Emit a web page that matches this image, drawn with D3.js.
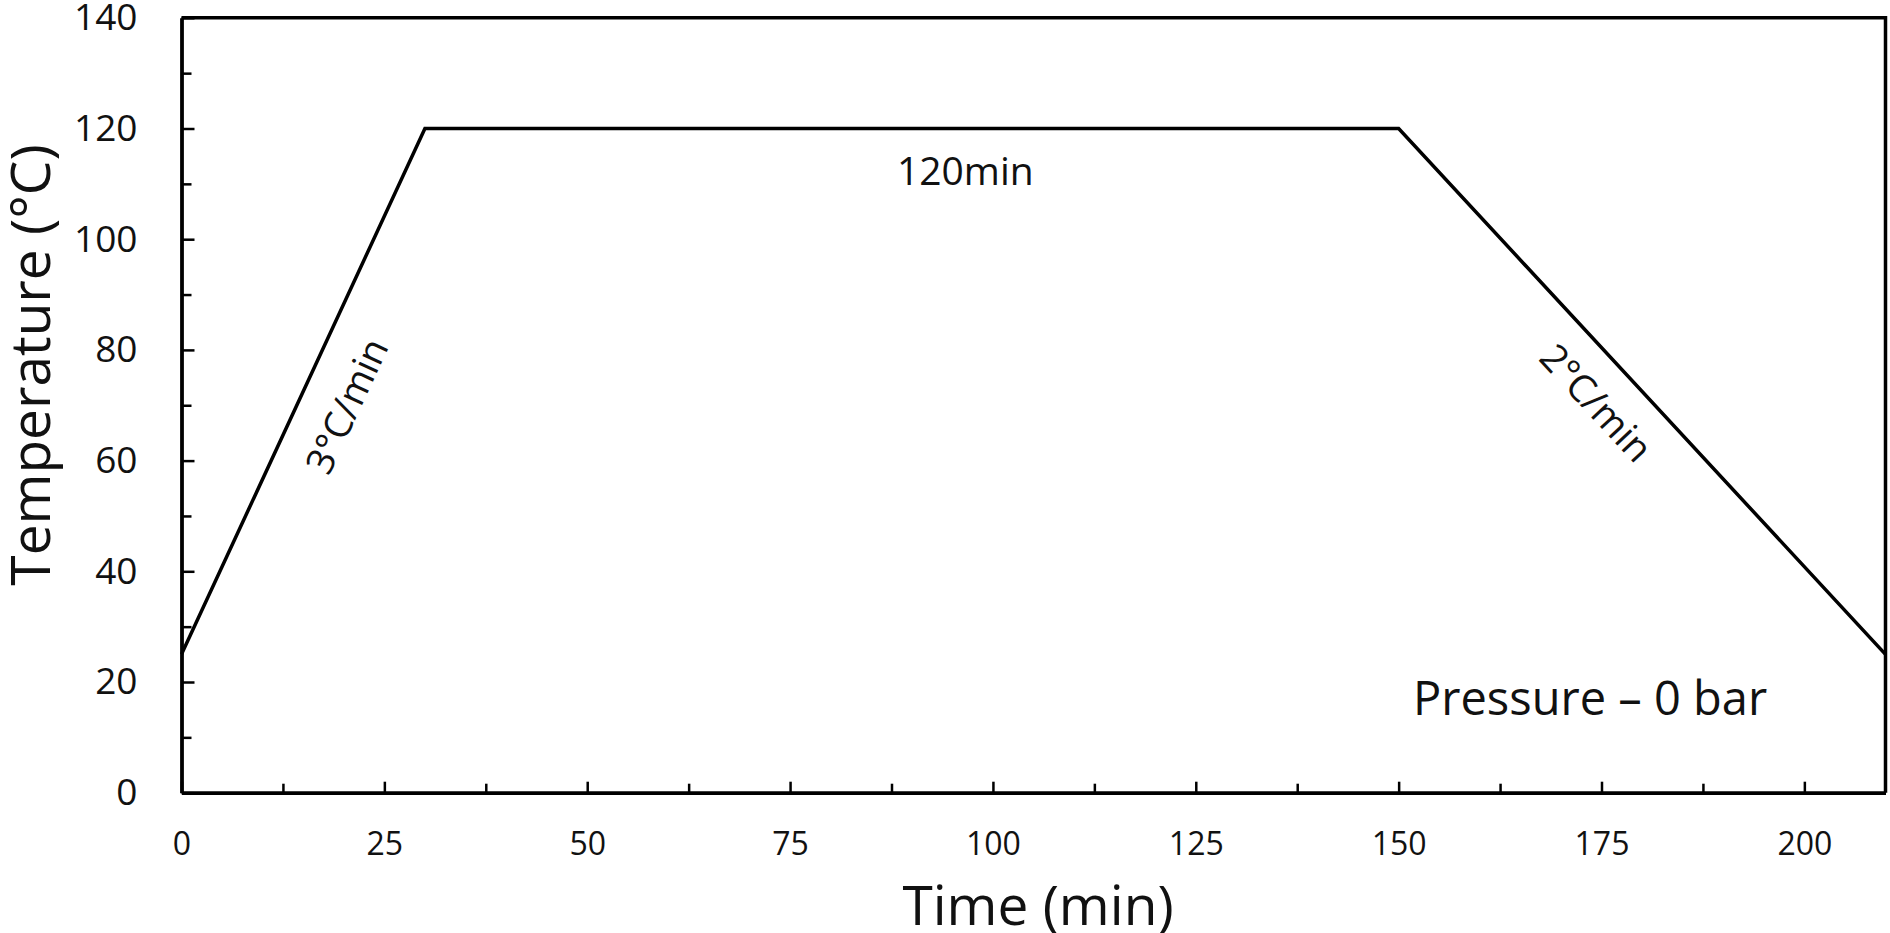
<!DOCTYPE html>
<html>
<head>
<meta charset="utf-8">
<script src="https://cdn.jsdelivr.net/npm/d3@7"></script>
<style>
  html, body { margin: 0; padding: 0; background: #fff; }
  svg { display: block; font-family: "Open Sans", "Noto Sans", sans-serif; }
</style>
</head>
<body>
<svg id="chart" width="1890" height="933"></svg>
<script>
// ---- data ----
const timeMin = [0, 30, 150, 210];
const tempC   = [25, 120, 120, 25];

const xDomain = [0, 210];
const yDomain = [0, 140];
const xMajorTicks = [0, 25, 50, 75, 100, 125, 150, 175, 200];
const xMinorTicks = [12.5, 37.5, 62.5, 87.5, 112.5, 137.5, 162.5, 187.5];
const yMajorTicks = [0, 20, 40, 60, 80, 100, 120, 140];
const yMinorTicks = [10, 30, 50, 70, 90, 110, 130];

const xTitle = "Time (min)";
const yTitle = "Temperature (\u2103)".replace("\u2103", "\u00B0C");

const annoText  = ["120min", "3\u00B0C/min", "2\u00B0C/min"];
const annoTime  = [96.6, 20.2, 174.5];
const annoTemp  = [109.8, 70, 70.6];
const noteText  = "Pressure \u2013 0 bar";

// ---- layout ----
const svg = d3.select("#chart");
const m = { left: 181.5, right: 1885.5, top: 17.8, bottom: 792.7 };

const x = d3.scaleLinear().domain(xDomain).range([m.left, m.right]);
const y = d3.scaleLinear().domain(yDomain).range([m.bottom, m.top]);

// frame (top & right borders)
svg.append("path")
  .attr("d", `M${m.left},${m.top}H${m.right}V${m.bottom}`)
  .attr("fill", "none").attr("stroke", "#000").attr("stroke-width", 3.5);

// x axis
const gx = svg.append("g").attr("transform", `translate(0,${m.bottom})`)
  .call(d3.axisBottom(x).tickValues(xMajorTicks).tickFormat(d3.format("d"))
        .tickSizeInner(-11).tickSizeOuter(0).tickPadding(39.5));
gx.select(".domain").attr("stroke-width", 3.8);
gx.selectAll(".tick line").attr("stroke-width", 2.5);
gx.selectAll(".tick text").attr("font-size", 32).attr("fill", "#111")
  .attr("font-family", "Open Sans");

const gxm = svg.append("g").attr("transform", `translate(0,${m.bottom})`)
  .call(d3.axisBottom(x).tickValues(xMinorTicks).tickFormat("")
        .tickSizeInner(-9).tickSizeOuter(0));
gxm.select(".domain").remove();
gxm.selectAll(".tick line").attr("stroke-width", 2.5);

// y axis
const gy = svg.append("g").attr("transform", `translate(${m.left},0)`)
  .call(d3.axisLeft(y).tickValues(yMajorTicks).tickFormat(d3.format("d"))
        .tickSizeInner(-13).tickSizeOuter(0).tickPadding(44));
gy.select(".domain").attr("stroke-width", 3.8);
gy.selectAll(".tick line").attr("stroke-width", 2.5);
gy.selectAll(".tick text").attr("font-size", 37).attr("fill", "#111")
  .attr("font-family", "Open Sans");

const gym = svg.append("g").attr("transform", `translate(${m.left},0)`)
  .call(d3.axisLeft(y).tickValues(yMinorTicks).tickFormat("")
        .tickSizeInner(-10).tickSizeOuter(0));
gym.select(".domain").remove();
gym.selectAll(".tick line").attr("stroke-width", 2.5);

// data line
const pts = timeMin.map((t, i) => [t, tempC[i]]);
svg.append("path")
  .datum(pts)
  .attr("d", d3.line().x(d => x(d[0])).y(d => y(d[1])))
  .attr("fill", "none").attr("stroke", "#000").attr("stroke-width", 3.5)
  .attr("stroke-linejoin", "miter");

// axis titles
svg.append("text")
  .attr("x", 1038).attr("y", 925)
  .attr("text-anchor", "middle").attr("font-size", 55).attr("fill", "#111")
  .text(xTitle);

svg.append("text")
  .attr("transform", `translate(50,365) rotate(-90)`)
  .attr("text-anchor", "middle").attr("font-size", 55).attr("fill", "#111")
  .text(yTitle);

// annotations
const slope1 = Math.atan2(y(tempC[1]) - y(tempC[0]), x(timeMin[1]) - x(timeMin[0])) * 180 / Math.PI;
const slope2 = Math.atan2(y(tempC[3]) - y(tempC[2]), x(timeMin[3]) - x(timeMin[2])) * 180 / Math.PI;
const annoAngle = [0, slope1, slope2];
const annoBase  = ["alphabetic", "central", "central"];

annoText.forEach((t, i) => {
  svg.append("text")
    .attr("transform", `translate(${x(annoTime[i])},${y(annoTemp[i])}) rotate(${annoAngle[i]})`)
    .attr("text-anchor", "middle")
    .attr("dominant-baseline", annoBase[i])
    .attr("font-size", i === 0 ? 39 : 38).attr("fill", "#111")
    .text(t);
});

svg.append("text")
  .attr("x", 1413).attr("y", 715)
  .attr("font-size", 47).attr("fill", "#111")
  .text(noteText);
</script>
</body>
</html>
